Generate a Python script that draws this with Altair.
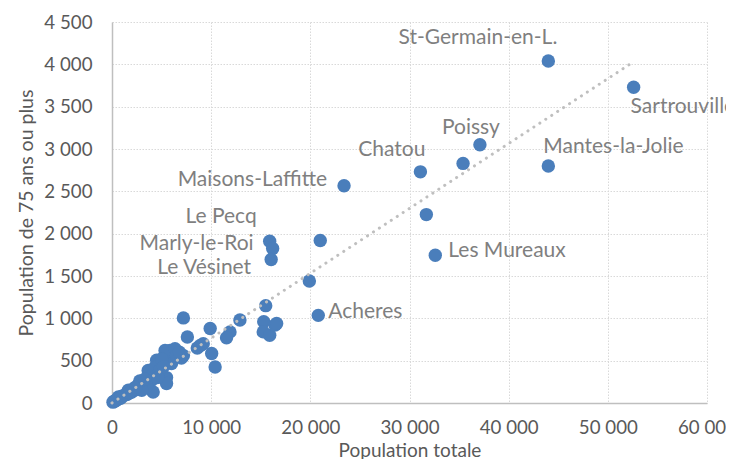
import altair as alt
import pandas as pd

# Labelled communes
label_names = ["St-Germain-en-L.", "Sartrouville", "Mantes-la-Jolie", "Poissy", "Chatou",
               "Les Mureaux", "Maisons-Laffitte", "Le Pecq", "Marly-le-Roi", "Le Vésinet", "Acheres"]
label_pop = [44000, 52600, 44000, 37100, 31100, 32600, 23400, 15900, 16200, 16050, 20800]
label_75 = [4040, 3730, 2800, 3050, 2730, 1745, 2565, 1910, 1825, 1695, 1035]

# Other communes (unlabelled)
other_pop = [35400, 31700, 21000, 19900, 15500, 15300, 15250, 15900, 16450, 16600,
             12900, 11900, 11550, 9900, 7200, 7600, 8900, 10050, 10400,
             5850, 5500, 7200, 5500, 5350, 6350, 6000, 4500, 3650, 4000, 4150, 5500,
             2650, 1650, 650, 100, 300, 200, 500, 800, 1000, 1200, 1500, 2000, 2200,
             2500, 3000, 3200, 3500, 3800, 4200, 4300, 4800, 5000, 5200, 6500, 7000,
             3000, 2800, 4600, 8600, 9200, 6800, 400, 900, 1800, 2400, 3300]
other_75 = [2830, 2225, 1920, 1440, 1150, 960, 840, 800, 920, 940,
            980, 840, 770, 880, 1005, 780, 680, 585, 425,
            620, 545, 560, 300, 620, 640, 465, 505, 385, 270, 130, 230,
            210, 150, 70, 10, 25, 20, 40, 55, 80, 90, 100, 130, 170,
            160, 200, 240, 200, 310, 350, 420, 380, 520, 430, 560, 530,
            150, 260, 300, 650, 700, 600, 30, 60, 120, 190, 280]

# Trend line end points
trend_x = [0, 52600]
trend_y = [0, 4030]

pts = pd.DataFrame({
    "name": label_names + [""] * len(other_pop),
    "pop": label_pop + other_pop,
    "p75": label_75 + other_75,
})
trend = pd.DataFrame({"pop": trend_x, "p75": trend_y})

label_expr = "replace(format(datum.value, ','), ',', ' ')"

x_scale = alt.Scale(domain=[0, 60000], nice=False)
y_scale = alt.Scale(domain=[0, 4500], nice=False)

x_axis = alt.Axis(values=list(range(0, 60001, 10000)), labelExpr=label_expr,
                  title="Population totale", ticks=False, tickSize=0,
                  labelPadding=24, labelBaseline="middle",
                  titleY=47, titleBaseline="middle", titleFontSize=19)
y_axis = alt.Axis(values=list(range(0, 4501, 500)), labelExpr=label_expr,
                  title="Population de 75 ans ou plus", ticks=False, tickSize=0,
                  labelPadding=20, titleX=-86, titleY=190.5,
                  titleBaseline="middle", titleAlign="center")

base = alt.Chart(pts)

points = base.mark_circle(size=180, color="#4A7EBB", opacity=1).encode(
    x=alt.X("pop:Q", scale=x_scale, axis=x_axis),
    y=alt.Y("p75:Q", scale=y_scale, axis=y_axis),
)

trend_line = alt.Chart(trend).mark_line(
    color="#BFBFBF", strokeWidth=3, strokeDash=[0.1, 7], strokeCap="round"
).encode(x=alt.X("pop:Q", scale=x_scale), y=alt.Y("p75:Q", scale=y_scale))

# label placement: (name, align, dx, dy)
placements = [
    ("St-Germain-en-L.", "right", 9, -23),
    ("Sartrouville", "left", -3, 20),
    ("Mantes-la-Jolie", "left", -5, -19),
    ("Poissy", "center", -9, -17),
    ("Chatou", "right", 5, -22),
    ("Les Mureaux", "left", 13, -4),
    ("Maisons-Laffitte", "right", -17, -6),
    ("Le Pecq", "right", -13, -24),
    ("Marly-le-Roi", "right", -19, -4),
    ("Le Vésinet", "right", -20, 9),
    ("Acheres", "left", 10, -3),
]

label_layers = []
for nm, al, dx, dy in placements:
    label_layers.append(
        base.transform_filter(alt.datum.name == nm).mark_text(
            align=al, baseline="middle", dx=dx, dy=dy, font="Lato",
            fontSize=21, color="#7F7F7F"
        ).encode(x=alt.X("pop:Q", scale=x_scale), y=alt.Y("p75:Q", scale=y_scale),
                 text="name:N")
    )

chart = alt.layer(points, trend_line, *label_layers).properties(
    width=595, height=381,
    autosize=alt.AutoSizeParams(type="none"),
    padding={"left": 104, "top": 14, "right": 19, "bottom": 56},
).configure_view(stroke=None).configure_axis(
    labelFont="Lato", labelFontSize=18.7, labelColor="#595959",
    titleFont="Lato", titleFontSize=19.5, titleColor="#595959", titleFontWeight="normal",
    domainColor="#BFBFBF", domainWidth=1.5,
    gridColor="#D9D9D9", gridDash=[1.5, 1.5], gridWidth=1,
).configure_axisX(labelFlush=False)

chart.save("out.html", embed_options={"renderer": "svg", "actions": False})
